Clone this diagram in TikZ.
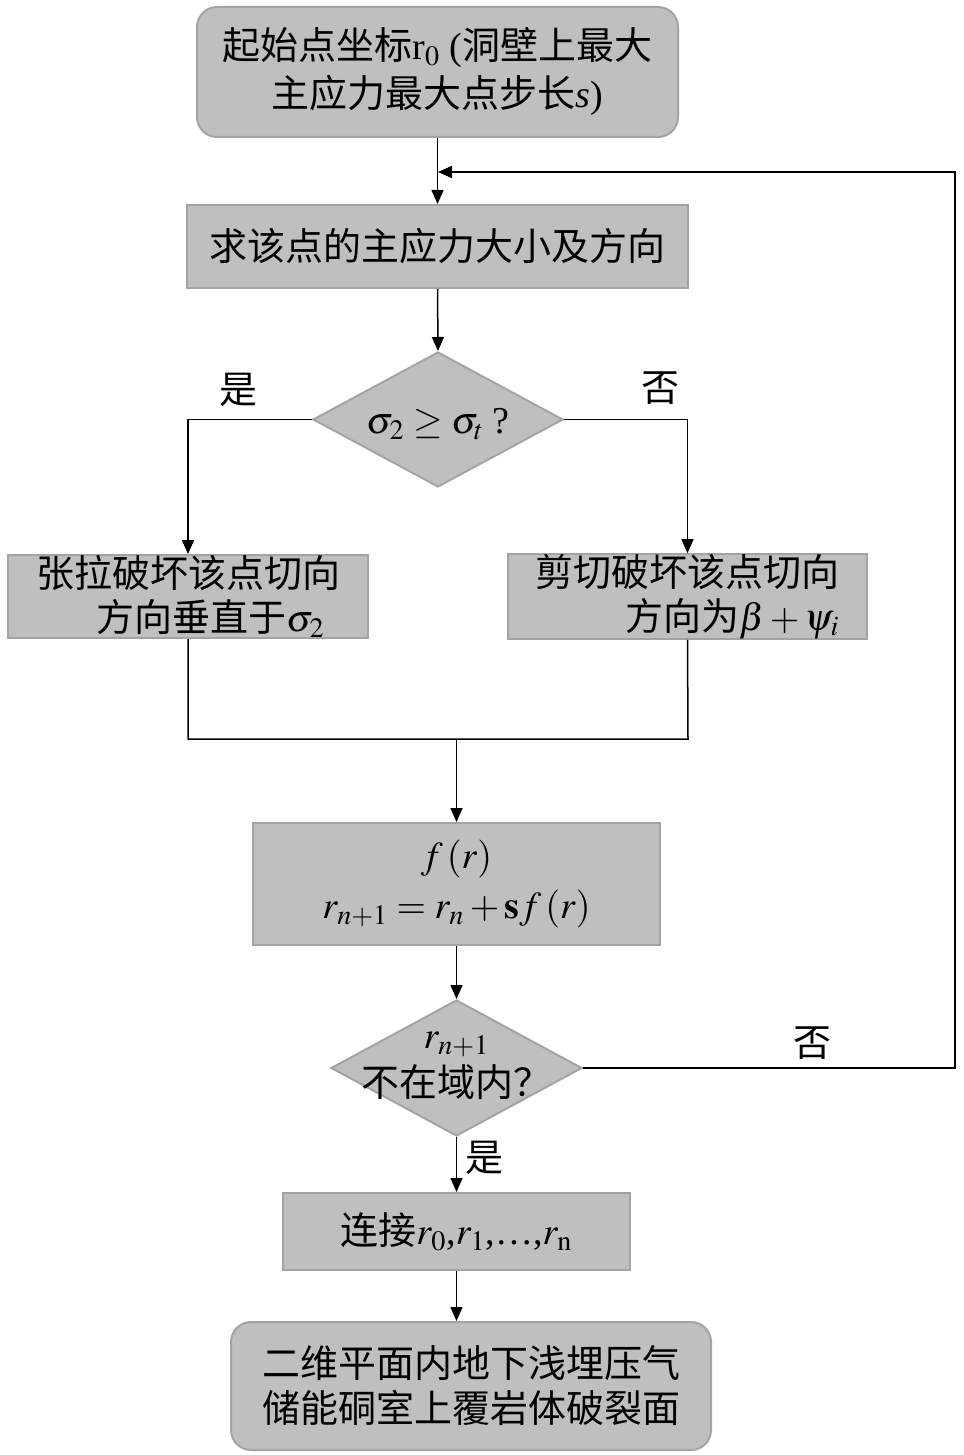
\documentclass[tikz,border=0pt]{standalone}
\usepackage{amsmath}
\usepackage{amssymb}
\usepackage{mathptmx}
\usepackage[no-math]{fontspec}
\setmainfont{Liberation Serif}
\newfontfamily\cjk{Noto Sans CJK SC}
\usetikzlibrary{arrows.meta,shapes.geometric}
\definecolor{boxfill}{HTML}{BFBFBF}
\definecolor{boxline}{HTML}{A3A3A3}
\newcommand{\zh}[1]{{\cjk #1}}

\begin{document}
\begin{tikzpicture}[x=0.5pt, y=-0.5pt,
    box/.style   = {draw=boxline, fill=boxfill, line width=1pt, inner sep=0pt,
                    align=center, font=\fontsize{19}{24}\selectfont},
    endbox/.style = {box, rounded corners=10pt},
    decision/.style = {diamond, draw=boxline, fill=boxfill, line width=1pt,
                    inner sep=0pt, minimum width=125pt, minimum height=67.5pt},
    txt/.style   = {align=center, font=\fontsize{19}{24}\selectfont},
    arrow/.style = {-{Triangle[length=7pt,width=6pt]}, line width=0.75pt},
    link/.style  = {line width=0.75pt}]
  \useasboundingbox (0,0) rectangle (963,1455);
  % boxes
  \node [endbox, minimum width=240.5pt, minimum height=65pt] (start) at (437.5,72)
    {\zh{起始点坐标}r$_0$ (\zh{洞壁上最大}\\ \zh{主应力最大点步长}\textit{s})};
  \node [box, minimum width=250.5pt, minimum height=41.5pt] (stress) at (437.5,246.5)
    {\zh{求该点的主应力大小及方向}};
  \node [decision] (dec1) at (438,419.5) {};
  \node [txt] (dec1txt) at (438,424) {$\sigma_2 \geq \sigma_t\;$?};
  \node [box, minimum width=180pt, minimum height=41.5pt,
         font=\fontsize{19}{22}\selectfont] (tens) at (188,596.5)
    {\zh{张拉破坏该点切向}\\ \hspace{1.2em}\zh{方向垂直于}$\sigma_2$};
  \node [box, minimum width=179.5pt, minimum height=41.5pt, align=right,
         font=\fontsize{19}{22}\selectfont] (shear) at (687.5,596.5)
    {\zh{剪切破坏该点切向}\\ \zh{方向为}$\beta+\psi_i$};
  \node [box, minimum width=203.5pt, minimum height=61pt,
         font=\fontsize{19}{25}\selectfont] (update) at (456.5,884)
    {$f\,(r)$\\ $r_{n+1}=r_n+\mathbf{s}f\,(r)$};
  \node [decision, minimum width=125.5pt, minimum height=68pt] (dec2) at (456.5,1068) {};
  \node [txt] (dec2txt) at (456.5,1066)
    {$r_{n+1}$\\ \zh{不在域内？}};
  \node [box, minimum width=173.5pt, minimum height=38.5pt] (connect) at (456.5,1231.5)
    {\zh{连接}$r_0$,$r_1$,\ldots,$r_{\mathrm{n}}$};
  \node [endbox, minimum width=240pt, minimum height=64pt,
         font=\fontsize{19}{22.5}\selectfont] (result) at (471,1386)
    {\zh{二维平面内地下浅埋压气}\\ \zh{储能硐室上覆岩体破裂面}};
  % labels
  \node [txt] (yes1) at (238,390) {\zh{是}};
  \node [txt] (no1)  at (660,388) {\zh{否}};
  \node [txt] (no2)  at (812,1043) {\zh{否}};
  \node [txt] (yes2) at (484,1158) {\zh{是}};
  % helper points
  \coordinate (loopin) at (438,172);
  \coordinate (loopR)  at (955,1068);
  \coordinate (mergeR) at (688,739);
  \coordinate (mergeM) at (456.5,739);
  % connectors
  \draw [arrow] (start.south) -- (stress.north);
  \draw [arrow] (stress.south) -- (dec1.north);
  \draw [arrow] (dec1.west) -| (tens.north);
  \draw [arrow] (dec1.east) -| (shear.north);
  \draw [link]  (tens.south) |- (mergeR) -- (shear.south);
  \draw [arrow] (mergeM) -- (update.north);
  \draw [arrow] (update.south) -- (dec2.north);
  \draw [arrow] (dec2.east) -- (loopR) |- (loopin);
  \draw [arrow] (dec2.south) -- (connect.north);
  \draw [arrow] (connect.south) -- (connect.south |- result.north);
\end{tikzpicture}
\end{document}
